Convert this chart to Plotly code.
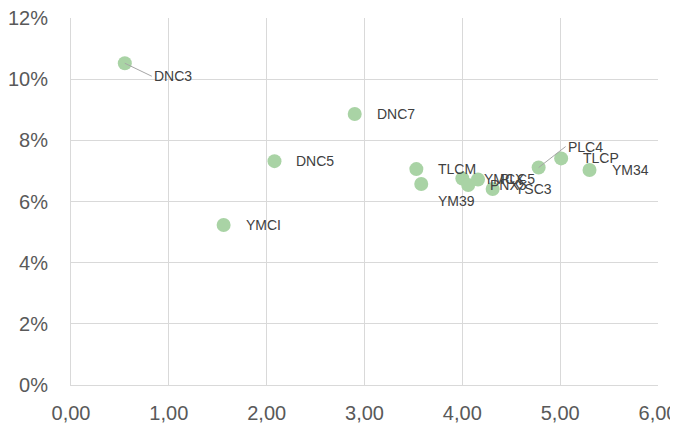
import plotly.graph_objects as go

names = ["DNC3", "DNC7", "DNC5", "YMCI", "TLCM", "YM39", "YMCX", "PNX5", "PLC5", "YSC3", "PLC4", "TLCP", "YM34"]
x_vals = [0.55, 2.90, 2.08, 1.56, 3.53, 3.58, 4.00, 4.06, 4.16, 4.31, 4.78, 5.01, 5.30]
y_vals = [0.1052, 0.0886, 0.0732, 0.0523, 0.0706, 0.0657, 0.0675, 0.0654, 0.0672, 0.0641, 0.0711, 0.0741, 0.0703]

# label placement (pixel offsets): dx, dy, leader line
label_pos = {
    "DNC3": (27, -13, True),
    "PLC4": (27, 21, True),
    "YM39": (15, -17, False),
}

fig = go.Figure()
fig.add_trace(go.Scatter(
    x=x_vals, y=y_vals, mode="markers",
    marker=dict(size=14, color="#a9d3a5", line=dict(width=0)),
    hoverinfo="skip", showlegend=False,
))

lab_font = dict(family="Liberation Sans, Arial", size=14, color="#404040")
for n, xv, yv in zip(names, x_vals, y_vals):
    dx, dy, leader = label_pos.get(n, (20, 0, False))
    if leader:
        fig.add_annotation(
            x=xv, y=yv, text=n, showarrow=True, arrowhead=0, arrowwidth=1,
            arrowcolor="#a6a6a6", ax=dx, ay=-dy, xanchor="left",
            font=lab_font,
        )
    else:
        fig.add_annotation(
            x=xv, y=yv, text=n, showarrow=False, xanchor="left", yanchor="middle",
            xshift=dx, yshift=dy, font=lab_font,
        )

fig.update_layout(
    width=678, height=431,
    margin=dict(l=63, r=28, t=10, b=54),
    paper_bgcolor="white", plot_bgcolor="white",
    separators=",.",
    font=dict(family="Liberation Sans, Arial", size=20, color="#595959"),
)
fig.update_xaxes(
    range=[0, 6], dtick=1, tickformat=".2f", showgrid=True, gridcolor="#d9d9d9",
    gridwidth=1, zeroline=False, showline=True, linecolor="#d9d9d9", linewidth=1,
    ticks="", ticklabelstandoff=10, automargin=False, ticklabeloverflow="allow",
)
fig.update_yaxes(
    range=[0, 0.12], dtick=0.02, tickformat=".0%", showgrid=True, gridcolor="#d9d9d9",
    gridwidth=1, zeroline=False, showline=True, linecolor="#d9d9d9", linewidth=1,
    ticks="", ticklabelstandoff=18, automargin=False, ticklabeloverflow="allow",
)

fig.write_html("out.html")
